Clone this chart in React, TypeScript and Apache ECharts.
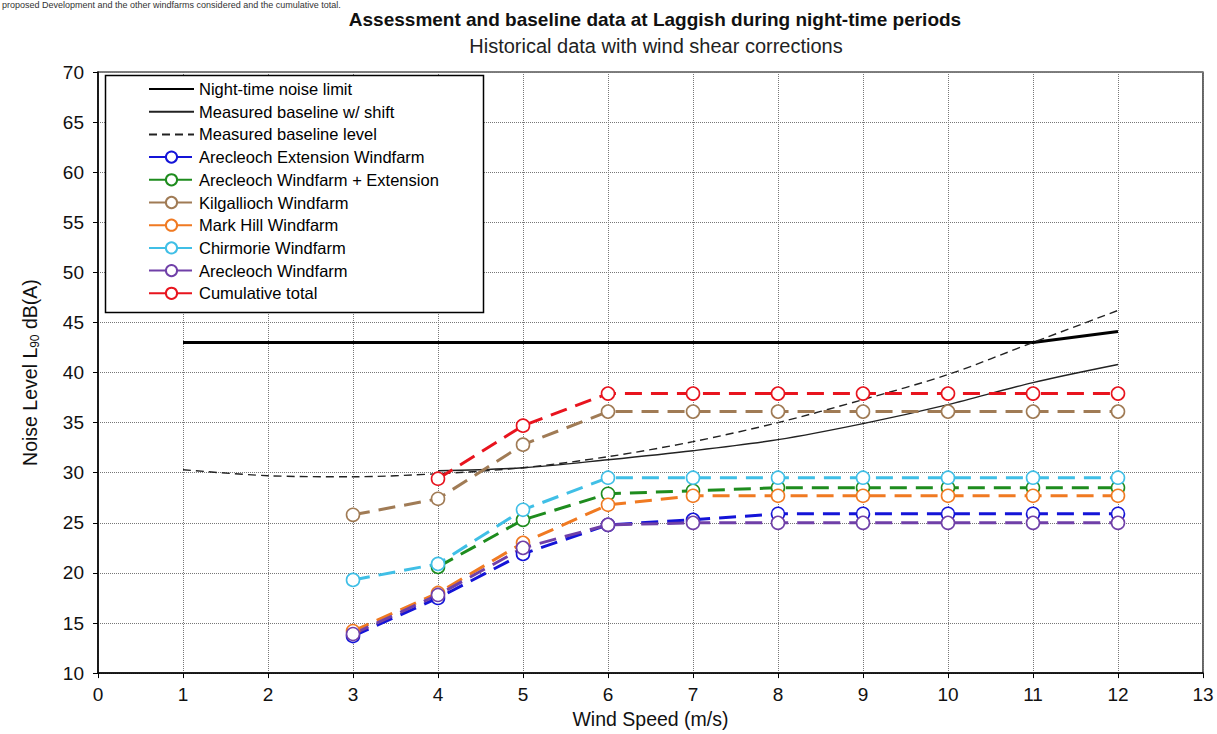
import React, { useEffect, useRef } from "react";
import * as echarts from "echarts";

// Wind speed (m/s) positions
const windSpeeds = [3, 4, 5, 6, 7, 8, 9, 10, 11, 12];

// Limit and background levels, dB(A)
const limitSpeeds = [1, 2, 3, 4, 5, 6, 7, 8, 9, 10, 11, 12];
const nightLimit = [43, 43, 43, 43, 43, 43, 43, 43, 43, 43, 43, 44.1];
const baselineSpeeds = [1, 2, 3, 4, 5, 6, 7, 8, 9, 10, 11, 12];
const baselineLevel = [30.3, 29.7, 29.6, 29.9, 30.5, 31.6, 33.1, 35.0, 37.3, 39.8, 43.0, 46.2];
const shiftSpeeds = [4, 5, 6, 7, 8, 9, 10, 11, 12];
const baselineShift = [30.2, 30.5, 31.3, 32.2, 33.3, 34.9, 36.8, 39.0, 40.8];

// Predicted windfarm levels, dB(A); null where no prediction exists
const arecleochExtension = [13.7, 17.5, 21.9, 24.8, 25.3, 25.9, 25.9, 25.9, 25.9, 25.9];
const arecleochPlusExtension = [null, 20.6, 25.3, 27.9, 28.2, 28.5, 28.5, 28.5, 28.5, 28.5];
const kilgallioch = [25.8, 27.4, 32.8, 36.1, 36.1, 36.1, 36.1, 36.1, 36.1, 36.1];
const markHill = [14.2, 18.0, 23.0, 26.8, 27.7, 27.7, 27.7, 27.7, 27.7, 27.7];
const chirmorie = [19.3, 20.9, 26.3, 29.5, 29.5, 29.5, 29.5, 29.5, 29.5, 29.5];
const arecleoch = [13.9, 17.8, 22.5, 24.8, 25.0, 25.0, 25.0, 25.0, 25.0, 25.0];
const cumulative = [null, 29.4, 34.7, 37.9, 37.9, 37.9, 37.9, 37.9, 37.9, 37.9];

const FONT = "Liberation Sans, Arial, sans-serif";

const pairs = (xs: number[], ys: (number | null)[]) =>
  xs.map((x, i) => [x, ys[i]]).filter((p) => p[1] !== null);

const farmSeries = (name: string, color: string, values: (number | null)[]) => ({
  name,
  type: "line",
  data: pairs(windSpeeds, values),
  symbol: "circle",
  symbolSize: 13,
  showSymbol: true,
  itemStyle: { color: "#ffffff", borderColor: color, borderWidth: 1.6 },
  lineStyle: { color, width: 3, type: [17, 9] },
  emphasis: { disabled: true },
});

const plainLineNames = ["Night-time noise limit", "Measured baseline w/ shift", "Measured baseline level"];
const farmNames = [
  "Arecleoch Extension Windfarm",
  "Arecleoch Windfarm + Extension",
  "Kilgallioch Windfarm",
  "Mark Hill Windfarm",
  "Chirmorie Windfarm",
  "Arecleoch Windfarm",
  "Cumulative total",
];

export default function App() {
  const ref = useRef<HTMLDivElement>(null);

  useEffect(() => {
    if (!ref.current) return;
    const chart = echarts.init(ref.current, null, { renderer: "svg" });
    const hidden = "rgba(0,0,0,0)";
    chart.setOption({
      animation: false,
      backgroundColor: "#ffffff",
      textStyle: { fontFamily: FONT },
      title: [
        {
          text: "Assessment and baseline data at Laggish during night-time periods",
          left: 650,
          top: 5,
          textAlign: "center",
          textStyle: { fontFamily: FONT, fontSize: 19, fontWeight: "bold", color: "#111" },
        },
        {
          text: "Historical data with wind shear corrections",
          left: 651,
          top: 31,
          textAlign: "center",
          textStyle: { fontFamily: FONT, fontSize: 20, fontWeight: "normal", color: "#222" },
        },
      ],
      graphic: [
        {
          type: "text",
          left: 2,
          top: 0,
          style: {
            text: "proposed Development and the other windfarms considered and the cumulative total.",
            font: `9px ${FONT}`,
            fill: "#333",
          },
        },
        {
          type: "rect",
          z: 3,
          shape: { x: 105.5, y: 75.5, width: 378, height: 237 },
          style: { fill: "#ffffff", stroke: "#000000", lineWidth: 1.5 },
        },
      ],
      legend: {
        orient: "vertical",
        left: 148,
        top: 80,
        z: 5,
        padding: 0,
        itemWidth: 45,
        itemHeight: 14,
        itemGap: 4.7,
        textStyle: { fontFamily: FONT, fontSize: 16.5, lineHeight: 18, color: "#000" },
        selectedMode: false,
        data: [
          ...plainLineNames.map((name) => ({
            name,
            itemStyle: { color: hidden, borderColor: hidden, opacity: 0 },
          })),
          ...farmNames,
        ],
      },
      grid: {
        left: 98,
        right: 14,
        top: 72,
        bottom: 57,
        show: true,
        borderColor: "#000",
        borderWidth: 1.2,
        backgroundColor: "transparent",
      },
      xAxis: {
        type: "value",
        min: 0,
        max: 13,
        interval: 1,
        name: "Wind Speed (m/s)",
        nameLocation: "middle",
        nameGap: 35,
        nameTextStyle: { fontFamily: FONT, fontSize: 19.5, color: "#111" },
        axisLine: { show: true, onZero: false, lineStyle: { color: "#000", width: 1.5 } },
        axisTick: { show: true, length: 5, lineStyle: { color: "#000" } },
        axisLabel: { fontFamily: FONT, fontSize: 19, color: "#111", margin: 12 },
        splitLine: { show: true, lineStyle: { color: "#777", type: "dotted", width: 1 } },
      },
      yAxis: {
        type: "value",
        min: 10,
        max: 70,
        interval: 5,
        name: "{a|Noise Level L}{s|90}{a| dB(A)}",
        nameLocation: "middle",
        nameGap: 56,
        nameTextStyle: {
          fontFamily: FONT,
          fontSize: 19.5,
          color: "#111",
          rich: {
            a: { fontFamily: FONT, fontSize: 19.5, color: "#111", lineHeight: 24 },
            s: { fontFamily: FONT, fontSize: 12, color: "#111", lineHeight: 24, padding: [9, 0, 0, 0] },
          },
        },
        axisLine: { show: true, onZero: false, lineStyle: { color: "#000", width: 1.5 } },
        axisTick: { show: true, length: 5, lineStyle: { color: "#000" } },
        axisLabel: { fontFamily: FONT, fontSize: 19, color: "#111", margin: 14 },
        splitLine: { show: true, lineStyle: { color: "#777", type: "dotted", width: 1 } },
      },
      series: [
        {
          name: plainLineNames[0],
          type: "line",
          data: pairs(limitSpeeds, nightLimit),
          symbol: "none",
          lineStyle: { color: "#000", width: 3 },
          itemStyle: { color: "#000" },
          z: 3,
        },
        {
          name: plainLineNames[1],
          type: "line",
          smooth: 0.3,
          data: pairs(shiftSpeeds, baselineShift),
          symbol: "none",
          lineStyle: { color: "#222", width: 1.4 },
          itemStyle: { color: "#222" },
        },
        {
          name: plainLineNames[2],
          type: "line",
          smooth: 0.3,
          data: pairs(baselineSpeeds, baselineLevel),
          symbol: "none",
          lineStyle: { color: "#222", width: 1.4, type: [8, 5] },
          itemStyle: { color: "#222" },
        },
        farmSeries(farmNames[0], "#1414d8", arecleochExtension),
        farmSeries(farmNames[1], "#1e8c1e", arecleochPlusExtension),
        farmSeries(farmNames[2], "#a07b55", kilgallioch),
        farmSeries(farmNames[3], "#f07a22", markHill),
        farmSeries(farmNames[4], "#40bfe6", chirmorie),
        farmSeries(farmNames[5], "#7040a8", arecleoch),
        farmSeries(farmNames[6], "#e8141e", cumulative),
      ],
    });
    return () => chart.dispose();
  }, []);

  return <div ref={ref} style={{ width: 1217, height: 734, position: "absolute", left: 0, top: 0 }} />;
}
